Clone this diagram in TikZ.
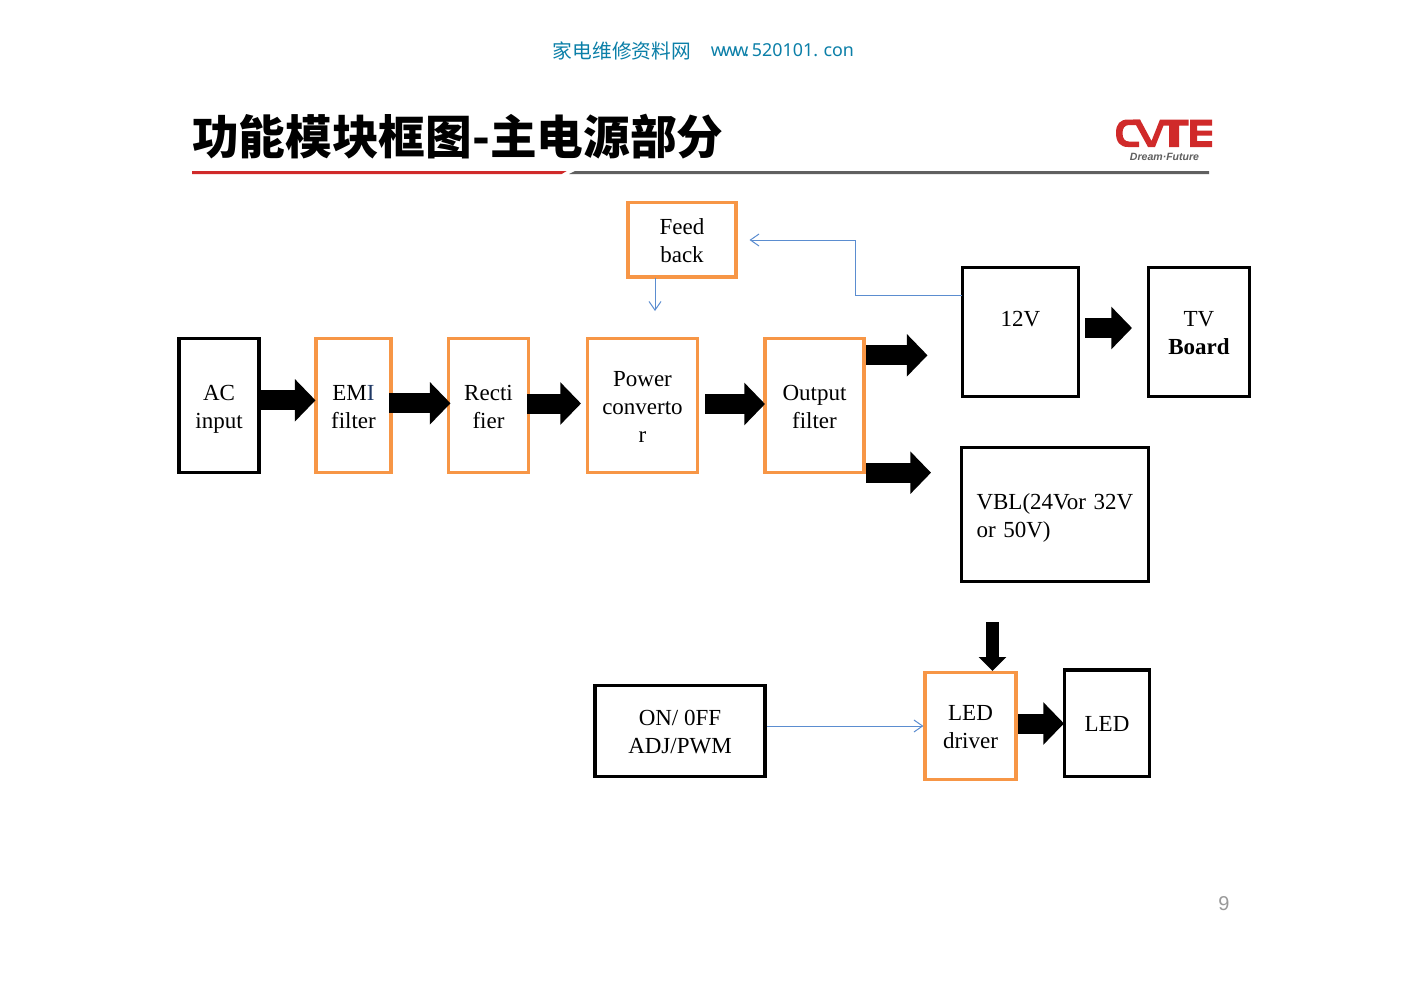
\documentclass[tikz,border=0pt]{standalone}
\usepackage{fontspec}
\usetikzlibrary{arrows.meta}
\setmainfont{Liberation Serif}
\newfontfamily\cjkfont{Noto Sans CJK SC}
\newfontfamily\titlefont{Noto Sans CJK SC Black}
\newfontfamily\headfont{Noto Sans}
\newfontfamily\liberasans{Liberation Sans}
\definecolor{boxorange}{HTML}{F79646}
\definecolor{linkblue}{HTML}{5B8DD0}
\definecolor{headteal}{HTML}{0B7FA8}
\definecolor{logored}{HTML}{D02A2A}
\definecolor{rulegray}{HTML}{606060}
\tikzset{
  x=0.75pt,y=-0.75pt,
  boxbase/.style={draw,line width=2.3pt,inner sep=0pt,align=center,
    font=\fontsize{17.25}{21}\selectfont,anchor=center},
  blackbox/.style={boxbase,draw=black},
  orangebox/.style={boxbase,draw=boxorange},
  bigarrow/.style={line width=15pt,-{Triangle[length=15.5pt,width=31pt]}},
  smallarrow/.style={line width=9.75pt,-{Triangle[length=10.5pt,width=20pt]}},
  thinlink/.style={draw=linkblue,line width=0.75pt,-{Straight Barb[length=6.5pt,width=9pt]}},
}
\newcommand{\boxat}[6]{\node[#1,minimum width=#4*0.75pt,minimum height=#5*0.75pt] (#6) at (#2,#3)}
% first and last line struts: keep the text block placed the same in every box
\newcommand{\fs}{\rule{0pt}{16.5pt}}
\newcommand{\ls}{\rule[-3.75pt]{0pt}{3.75pt}}
\begin{document}
\begin{tikzpicture}
\useasboundingbox (0,0) rectangle (1404,993);
\fill[white] (0,0) rectangle (1404,993);
% header
\node[text=headteal,font=\cjkfont\fontsize{14.8}{16}\selectfont,anchor=center] (hcn) at (622,50.5) {家电维修资料网};
\node[text=headteal,font=\headfont\fontsize{13.4}{16}\selectfont,anchor=center] (hweb) at (782.5,50.5) {\spaceskip=1pt w\kern-1.8pt w\kern-1.8pt w\kern-3pt. 520101.\kern2pt{} con};
% title
\node[font=\titlefont\fontsize{35}{40}\selectfont,anchor=west,inner sep=0pt] (title) at (192,137) {功能模块框图-主电源部分};
\fill[logored] (192,171) -- (566.7,171) -- (561.7,174) -- (192,174) -- cycle;
\fill[rulegray] (575,171) -- (1209,171) -- (1209,174) -- (569,174) -- cycle;
% logo
\fill[logored] (1140,119.5) -- (1128,119.5) .. controls (1120,119.5) and (1116,124) .. (1116,133) .. controls (1116,142) and (1120,147) .. (1128,147) -- (1139,147) -- (1139,141.5) -- (1129,141.5) .. controls (1125,141.5) and (1122.5,139) .. (1122.5,133) .. controls (1122.5,128) and (1125,125) .. (1129,125) -- (1140,125) -- cycle;
\fill[logored] (1133,119.5) -- (1140,119.5) -- (1151.5,141) -- (1160,119.5) -- (1188.5,119.5) -- (1188.5,125.5) -- (1179,125.5) -- (1179,147) -- (1169,147) -- (1169,125.5) -- (1163.5,125.5) -- (1155,147) -- (1148,147) -- cycle;
\fill[logored] (1190,119.5) -- (1212,119.5) -- (1212,125.5) -- (1197,125.5) -- (1197,130.5) -- (1212,130.5) -- (1212,135.5) -- (1197,135.5) -- (1197,141) -- (1212,141) -- (1212,147) -- (1190,147) -- cycle;
\node[text=rulegray,font=\liberasans\bfseries\itshape\fontsize{7.9}{9}\selectfont,anchor=center,inner sep=0pt] (slogan) at (1164.5,157) {Dream·Future};
% boxes
\boxat{blackbox}{219}{405.5}{80}{134}{ac} {\fs AC\\input\ls};
\boxat{orangebox}{353.5}{405.5}{75}{134}{emi} {\fs EM{\color[HTML]{1F3864}I}\\filter\ls};
\boxat{orangebox}{488.5}{405.5}{80}{134}{rect} {\fs Recti\\fier\ls};
\boxat{orangebox}{642.5}{405.5}{110}{134}{power} {\fs Power\\converto\\r\ls};
\boxat{orangebox}{814.5}{405.5}{99}{134}{output} {\fs Output\\filter\ls};
\boxat{orangebox}{682}{239.75}{108}{74.5}{feed} {\fs Feed\\back\ls};
\boxat{blackbox}{1020.5}{332}{116}{129}{twelve} {\fs 12V\\\ls};
\boxat{blackbox}{1199}{332}{101}{129}{tv} {\fs TV\\\textbf{Board}\ls};
\node[blackbox,align=left,text width=157*0.75pt,minimum width=187*0.75pt,minimum height=134*0.75pt] (vbl) at (1055,514.5) {\fs VBL(24Vor 32V\\or 50V)\ls};
\boxat{blackbox}{680}{731}{170}{91}{onoff} {\fs ON/ 0FF\\ADJ/PWM\ls};
\boxat{orangebox}{970.5}{726}{91}{107}{driver} {\fs LED\\driver\ls};
\boxat{blackbox}{1107}{723.25}{85}{106.5}{led} {\fs LED\ls};
% free ends of the block arrows
\coordinate (a1) at (260,400.3); \coordinate (b1) at (315.5,400.3);
\coordinate (a2) at (389,403.3); \coordinate (b2) at (450.5,403.3);
\coordinate (a3) at (527,403.5); \coordinate (b3) at (581,403.5);
\coordinate (a4) at (705,404); \coordinate (b4) at (765,404);
\coordinate (a5) at (866,355.3); \coordinate (b5) at (927.5,355.3);
\coordinate (a6) at (866,472.7); \coordinate (b6) at (931,472.7);
\coordinate (a7) at (1085,328); \coordinate (b7) at (1132,328);
\coordinate (a8) at (992.5,622); \coordinate (b8) at (992.5,671);
\coordinate (a9) at (1018,723.5); \coordinate (b9) at (1064,723.5);
\draw[bigarrow] (a1) -- (b1);
\draw[bigarrow] (a2) -- (b2);
\draw[bigarrow] (a3) -- (b3);
\draw[bigarrow] (a4) -- (b4);
\draw[bigarrow] (a5) -- (b5);
\draw[bigarrow] (a6) -- (b6);
\draw[bigarrow] (a7) -- (b7);
\draw[smallarrow] (a8) -- (b8);
\draw[bigarrow] (a9) -- (b9);
% thin links
\coordinate (t12) at (962,295.5);
\coordinate (tfeed) at (749.5,240);
\coordinate (tmid) at (855.5,240);
\coordinate (tdowna) at (655,277.5);
\coordinate (tdownb) at (655,311);
\draw[thinlink] (t12) -| (tmid) -- (tfeed);
\draw[thinlink] (tdowna) -- (tdownb);
\draw[thinlink] (onoff.east |- driver.west) -- (driver.west);
% page number
\node[text=gray!80,font=\liberasans\fontsize{15}{18}\selectfont,anchor=center] (pagenum) at (1224,904) {9};
\end{tikzpicture}
\end{document}
